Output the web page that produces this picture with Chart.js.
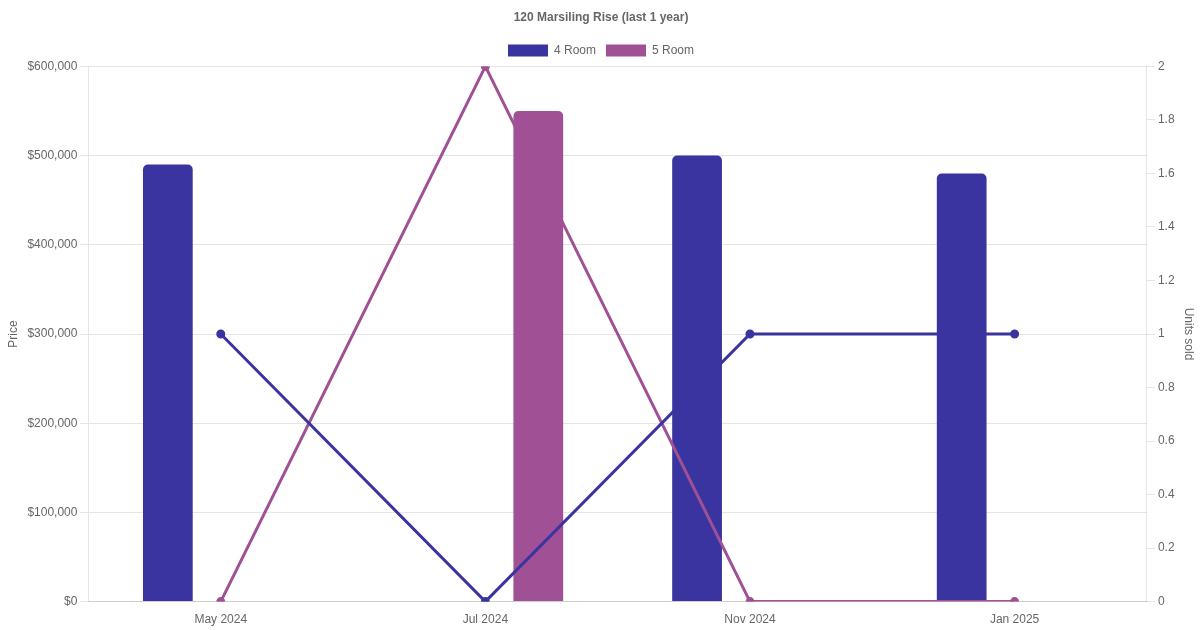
<!DOCTYPE html>
<html>
<head>
<meta charset="utf-8">
<script src="https://cdn.jsdelivr.net/npm/chart.js@4"></script>
<style>
  html, body { margin: 0; padding: 0; background: #fff; }
  #wrap { width: 1200px; height: 630px; }
</style>
</head>
<body>
<div id="wrap"><canvas id="canvas"></canvas></div>
<script>
const months = ["May 2024", "Jul 2024", "Nov 2024", "Jan 2025"];
const price4Room = [490000, null, 500000, 480000];
const price5Room = [null, 550000, null, null];
const sold4Room = [1, 0, 1, 1];
const sold5Room = [0, 2, 0, 0];

const blue = "#3a34a0";
const purple = "#a05094";

new Chart(document.getElementById("canvas").getContext("2d"), {
  type: "bar",
  data: {
    labels: months,
    datasets: [
      {
        label: "4 Room",
        data: price4Room,
        backgroundColor: blue,
        borderRadius: 5,
        borderSkipped: "bottom",
        barPercentage: 0.47,
        order: 1,
        yAxisID: "y"
      },
      {
        label: "5 Room",
        data: price5Room,
        backgroundColor: purple,
        borderRadius: 5,
        borderSkipped: "bottom",
        barPercentage: 0.47,
        order: 1,
        yAxisID: "y"
      },
      {
        type: "line",
        label: "4 Room sold",
        data: sold4Room,
        borderColor: blue,
        backgroundColor: blue,
        borderWidth: 3,
        pointRadius: 3,
        fill: false,
        tension: 0,
        order: 0,
        yAxisID: "y1"
      },
      {
        type: "line",
        label: "5 Room sold",
        data: sold5Room,
        borderColor: purple,
        backgroundColor: purple,
        borderWidth: 3,
        pointRadius: 3,
        fill: false,
        tension: 0,
        order: 0,
        yAxisID: "y1"
      }
    ]
  },
  options: {
    responsive: true,
    maintainAspectRatio: false,
    animation: false,
    layout: { padding: { left: 2 } },
    plugins: {
      title: {
        display: true,
        text: "120 Marsiling Rise (last 1 year)",
        color: "#666",
        font: { size: 12, weight: "bold" }
      },
      legend: {
        labels: {
          color: "#666",
          filter: (item) => item.datasetIndex < 2
        }
      },
      tooltip: { enabled: false }
    },
    scales: {
      x: {
        grid: { display: false },
        ticks: { color: "#666" }
      },
      y: {
        position: "left",
        min: 0,
        max: 600000,
        ticks: {
          stepSize: 100000,
          color: "#666",
          callback: (v) => "$" + v.toLocaleString("en-US")
        },
        title: { display: true, text: "Price", color: "#666" }
      },
      y1: {
        position: "right",
        min: 0,
        max: 2,
        ticks: {
          stepSize: 0.2,
          color: "#666",
          callback: (v) => String(Number(v.toFixed(1)))
        },
        grid: { drawOnChartArea: false },
        title: { display: true, text: "Units sold", color: "#666" }
      }
    }
  }
});
</script>
</body>
</html>
